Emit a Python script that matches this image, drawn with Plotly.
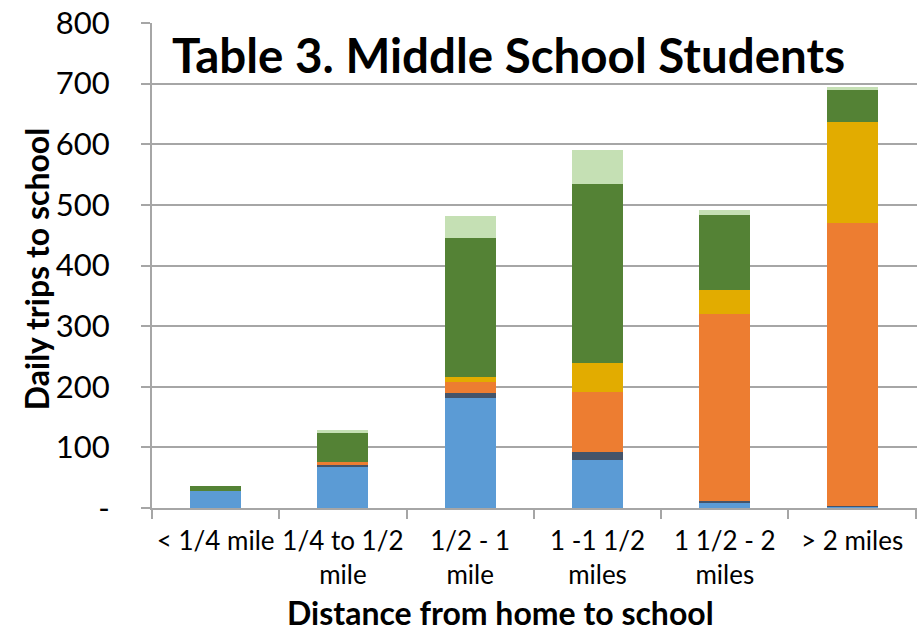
import plotly.graph_objects as go

categories = ["< 1/4 mile", "1/4 to 1/2<br>mile", "1/2 - 1<br>mile", "1 -1 1/2<br>miles", "1 1/2 - 2<br>miles", "> 2 miles"]

series_names = ["Walk", "Bike", "Car", "Carpool", "School bus", "Other"]
walk = [28, 68, 182, 80, 8, 3]
bike = [0, 3, 8, 12, 4, 1]
car = [0, 5, 18, 99, 308, 466]
carpool = [0, 0, 8, 48, 40, 167]
bus = [8, 48, 229, 295, 124, 52]
other = [0, 5, 36, 57, 8, 5]
colors = ["#5B9BD5", "#44546A", "#ED7D31", "#E2AC00", "#548235", "#C5E0B4"]

y_tickvals = [0, 100, 200, 300, 400, 500, 600, 700, 800]
y_ticktext = ["-", "100", "200", "300", "400", "500", "600", "700", "800"]

FONT = "Lato, sans-serif"

fig = go.Figure()
for name, vals, col in zip(series_names, [walk, bike, car, carpool, bus, other], colors):
    fig.add_trace(go.Bar(x=categories, y=vals, name=name, marker=dict(color=col, line=dict(width=0)), width=0.4))

fig.update_layout(
    barmode="stack",
    width=917, height=632,
    margin=dict(l=152, r=0, t=23, b=124, autoexpand=False),
    paper_bgcolor="white", plot_bgcolor="white",
    showlegend=False,
    font=dict(family=FONT, color="black"),
    annotations=[
        dict(text="<b>Table 3. Middle School Students</b>", xref="paper", yref="paper",
             x=0.024, y=0.935, xanchor="left", yanchor="middle", showarrow=False,
             font=dict(size=47.5, family=FONT, color="black")),
        dict(text="<b>Daily trips to school</b>", xref="paper", yref="paper",
             x=-0.150, y=0.493, xanchor="center", yanchor="middle", textangle=-90, showarrow=False,
             font=dict(size=32, family=FONT, color="black")),
        dict(text="<b>Distance from home to school</b>", xref="paper", yref="paper",
             x=0.456, y=-0.216, xanchor="center", yanchor="middle", showarrow=False,
             font=dict(size=32, family=FONT, color="black")),
    ],
)
fig.update_xaxes(
    type="category", range=[-0.5, 5.51], automargin=False, tickangle=0,
    showline=True, linecolor="#A6A6A6", linewidth=2,
    ticks="outside", tickson="boundaries", ticklen=9, tickcolor="#A6A6A6", tickwidth=2,
    tickfont=dict(size=26), showgrid=False, ticklabelstandoff=9,
)
fig.update_yaxes(
    range=[0, 800], tickvals=y_tickvals, ticktext=y_ticktext, automargin=False,
    showline=True, linecolor="#A6A6A6", linewidth=2,
    ticks="outside", ticklen=9, tickcolor="#A6A6A6", tickwidth=2,
    showgrid=True, gridcolor="#A6A6A6", gridwidth=2,
    tickfont=dict(size=31), ticklabelstandoff=25,
    zeroline=False,
)
fig.write_html("out.html")
